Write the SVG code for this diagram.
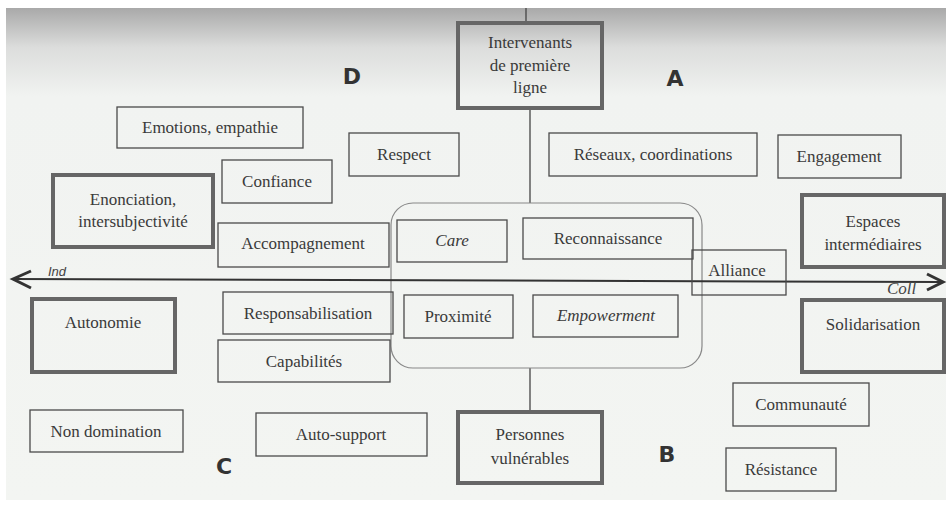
<svg xmlns="http://www.w3.org/2000/svg" width="947" height="507" viewBox="0 0 947 507">
<defs>
<linearGradient id="bg" x1="0" y1="0" x2="0" y2="1">
<stop offset="0" stop-color="#a9a9a9"/>
<stop offset="0.08" stop-color="#dcdddc"/>
<stop offset="0.18" stop-color="#f1f3f1"/>
<stop offset="1" stop-color="#f3f5f2"/>
</linearGradient>
<style>
.b{fill:none;stroke:#4a4a4a;stroke-width:1.3}
.t{fill:none;stroke:#666;stroke-width:4}
.tx{font-family:'Liberation Serif','Times New Roman',serif;font-size:17px;fill:#3a3a3a;text-anchor:middle}
.it{font-style:italic}
.q{font-family:'DejaVu Sans','Liberation Sans',sans-serif;font-weight:bold;font-size:22px;fill:#333;text-anchor:middle}
.ln{stroke:#444;stroke-width:1.3;fill:none}
</style>
</defs>
<rect x="0" y="0" width="947" height="507" fill="#ffffff"/>
<rect x="6" y="8" width="940" height="492" fill="url(#bg)"/>

<g id="connectors">
<line class="ln" x1="526" y1="8" x2="526" y2="23"/>
<line class="ln" x1="530" y1="108" x2="530" y2="203"/>
<line class="ln" x1="530" y1="368" x2="530" y2="412"/>
<rect x="391" y="203" width="311" height="165" rx="22" ry="22" fill="none" stroke="#888" stroke-width="1.2"/>
<line x1="12" y1="279" x2="943" y2="282" stroke="#333" stroke-width="2"/>
<polyline points="31,271 13,279 31,288" fill="none" stroke="#333" stroke-width="3"/>
<polyline points="927,274 943,282 927,290" fill="none" stroke="#333" stroke-width="3"/>
<text x="48" y="276" font-family="'Liberation Sans',sans-serif" font-size="13" font-style="italic" fill="#444">Ind</text>
<text x="887" y="294" font-family="'Liberation Serif',serif" font-size="17" font-style="italic" fill="#444">Coll</text>
</g>

<g id="labels">
<text class="q" x="352" y="84">D</text>
<text class="q" x="675" y="86">A</text>
<text class="q" x="224" y="474">C</text>
<text class="q" x="667" y="462">B</text>
</g>

<g id="nodes" font-family="Liberation Serif, serif">
<g id="n-intervenants"><rect class="t" x="458" y="23" width="144" height="85"/>
<text class="tx" x="530" y="48">Intervenants</text><text class="tx" x="530" y="71">de première</text><text class="tx" x="530" y="93">ligne</text></g>
<g id="n-emotions"><rect class="b" x="117" y="107" width="186" height="41"/><text class="tx" x="210" y="133">Emotions, empathie</text></g>
<g id="n-respect"><rect class="b" x="349" y="133" width="110" height="43"/><text class="tx" x="404" y="160">Respect</text></g>
<g id="n-reseaux"><rect class="b" x="549" y="133" width="208" height="43"/><text class="tx" x="653" y="160">Réseaux, coordinations</text></g>
<g id="n-engagement"><rect class="b" x="778" y="135" width="123" height="43"/><text class="tx" x="839" y="162">Engagement</text></g>
<g id="n-confiance"><rect class="b" x="222" y="160" width="110" height="43"/><text class="tx" x="277" y="187">Confiance</text></g>
<g id="n-enonciation"><rect class="t" x="53" y="175" width="160" height="72"/><text class="tx" x="133" y="205">Enonciation,</text><text class="tx" x="133" y="227">intersubjectivité</text></g>
<g id="n-espaces"><rect class="t" x="802" y="195" width="142" height="72"/><text class="tx" x="873" y="227">Espaces</text><text class="tx" x="873" y="250">intermédiaires</text></g>
<g id="n-accompagnement"><rect class="b" x="218" y="223" width="171" height="44"/><text class="tx" x="303" y="249">Accompagnement</text></g>
<g id="n-care"><rect class="b" x="397" y="220" width="110" height="42"/><text class="tx it" x="452" y="246">Care</text></g>
<g id="n-reconnaissance"><rect class="b" x="523" y="218" width="170" height="41"/><text class="tx" x="608" y="244">Reconnaissance</text></g>
<g id="n-alliance"><rect class="b" x="692" y="250" width="94" height="45"/><text class="tx" x="737" y="276">Alliance</text></g>
<g id="n-autonomie"><rect class="t" x="32" y="299" width="143" height="73"/><text class="tx" x="103" y="328">Autonomie</text></g>
<g id="n-responsabilisation"><rect class="b" x="223" y="292" width="170" height="42"/><text class="tx" x="308" y="319">Responsabilisation</text></g>
<g id="n-proximite"><rect class="b" x="404" y="295" width="109" height="43"/><text class="tx" x="458" y="322">Proximité</text></g>
<g id="n-empowerment"><rect class="b" x="533" y="295" width="145" height="42"/><text class="tx it" x="606" y="321">Empowerment</text></g>
<g id="n-solidarisation"><rect class="t" x="802" y="300" width="142" height="72"/><text class="tx" x="873" y="330">Solidarisation</text></g>
<g id="n-capabilites"><rect class="b" x="218" y="340" width="172" height="42"/><text class="tx" x="304" y="367">Capabilités</text></g>
<g id="n-communaute"><rect class="b" x="733" y="383" width="136" height="43"/><text class="tx" x="801" y="410">Communauté</text></g>
<g id="n-nondomination"><rect class="b" x="30" y="410" width="153" height="42"/><text class="tx" x="106" y="437">Non domination</text></g>
<g id="n-autosupport"><rect class="b" x="256" y="413" width="171" height="43"/><text class="tx" x="341" y="440">Auto-support</text></g>
<g id="n-personnes"><rect class="t" x="458" y="412" width="144" height="71"/><text class="tx" x="530" y="440">Personnes</text><text class="tx" x="530" y="464">vulnérables</text></g>
<g id="n-resistance"><rect class="b" x="726" y="448" width="110" height="43"/><text class="tx" x="781" y="475">Résistance</text></g>
</g>
</svg>
